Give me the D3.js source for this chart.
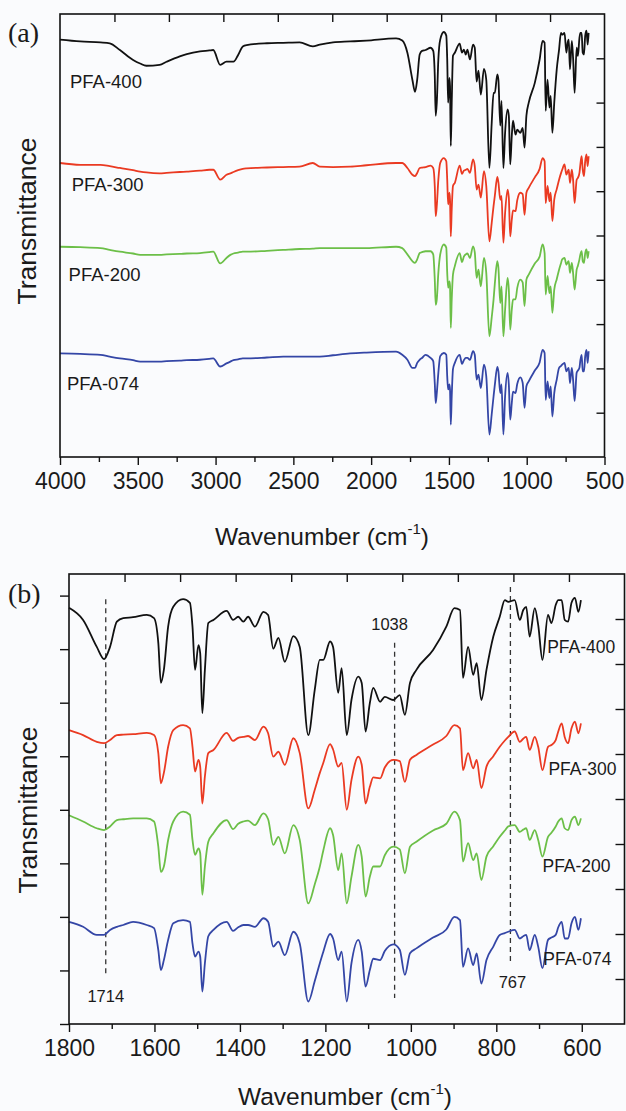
<!DOCTYPE html>
<html><head><meta charset="utf-8">
<script src="https://cdn.jsdelivr.net/npm/d3@7"></script>
<style>
html,body{margin:0;padding:0;background:#fafbfd;}
svg{display:block;}
text{fill:#1a1a1a;}
</style></head>
<body>
<svg id="chart" width="626" height="1111" font-family="'Liberation Sans', Arial, sans-serif"></svg>
<script>
// ---------------- DATA ----------------
const seriesNames = ["PFA-400", "PFA-300", "PFA-200", "PFA-074"];
const seriesColors = ["#111111", "#ea3a22", "#6cbf48", "#3446a6"];

// high-wavenumber region (panel a only), cm-1
const wnHigh = [4000, 3870, 3740, 3680, 3615, 3530, 3485, 3445, 3360, 3315, 3230, 3185, 3100, 3040, 3015, 2970, 2930, 2905, 2885, 2855, 2825, 2800, 2670, 2565, 2460, 2375, 2330, 2245, 2135, 2030, 1840];
const highPFA400 = [9.27, 9.23, 9.21, 9.19, 9.04, 8.82, 8.74, 8.69, 8.71, 8.78, 8.90, 8.95, 9.01, 9.03, 9.04, 8.71, 8.78, 8.78, 8.78, 8.93, 9.12, 9.15, 9.19, 9.20, 9.21, 9.12, 9.16, 9.21, 9.23, 9.25, 9.30];
const highPFA300 = [6.53, 6.49, 6.49, 6.46, 6.42, 6.37, 6.34, 6.32, 6.30, 6.31, 6.33, 6.34, 6.36, 6.38, 6.38, 6.16, 6.27, 6.30, 6.33, 6.37, 6.40, 6.41, 6.43, 6.44, 6.45, 6.53, 6.45, 6.44, 6.45, 6.48, 6.53];
const highPFA200 = [4.67, 4.66, 4.64, 4.60, 4.56, 4.52, 4.49, 4.49, 4.49, 4.50, 4.51, 4.52, 4.53, 4.55, 4.56, 4.30, 4.42, 4.49, 4.52, 4.54, 4.56, 4.56, 4.58, 4.60, 4.62, 4.63, 4.64, 4.64, 4.64, 4.64, 4.67];
const highPFA074 = [2.30, 2.29, 2.27, 2.23, 2.19, 2.15, 2.12, 2.12, 2.12, 2.13, 2.14, 2.15, 2.16, 2.18, 2.19, 2.01, 2.08, 2.12, 2.15, 2.17, 2.19, 2.19, 2.21, 2.23, 2.23, 2.23, 2.23, 2.26, 2.30, 2.32, 2.34];

// fingerprint region (both panels), cm-1
const wnFine = [1800, 1767, 1735, 1718, 1704, 1688, 1673, 1650, 1618, 1601, 1591, 1585, 1578, 1568, 1556, 1533, 1517, 1511, 1505, 1497, 1493, 1488, 1482, 1474, 1462, 1431, 1416, 1404, 1392, 1381, 1365, 1345, 1334, 1322, 1310, 1295, 1275, 1260, 1240, 1225, 1213, 1205, 1189, 1182, 1170, 1162, 1150, 1139, 1123, 1115, 1106, 1096, 1088, 1072, 1061, 1041, 1026, 1014, 1002, 987, 948, 917, 898, 885, 878, 866, 854, 846, 835, 823, 807, 792, 780, 772, 757, 745, 737, 730, 722, 710, 702, 692, 679, 671, 661, 655, 647, 640, 632, 624, 616, 608, 602];
const finePFA400 = [9.25, 8.98, 8.38, 8.11, 8.38, 8.94, 9.02, 9.04, 9.09, 9.02, 8.47, 7.58, 7.87, 8.83, 9.27, 9.44, 9.36, 8.83, 7.87, 8.42, 8.24, 6.91, 7.87, 8.91, 8.98, 9.18, 8.98, 9.05, 8.94, 9.05, 8.83, 9.16, 9.09, 8.34, 8.58, 8.05, 8.62, 8.38, 6.42, 7.42, 8.09, 8.09, 8.50, 8.38, 7.36, 7.91, 6.42, 7.20, 7.72, 7.58, 6.50, 7.13, 7.47, 7.16, 7.27, 7.20, 7.31, 6.87, 7.58, 7.87, 8.31, 8.83, 9.24, 9.20, 7.69, 8.38, 7.76, 8.02, 7.20, 7.87, 8.61, 9.05, 9.42, 9.38, 9.42, 8.98, 9.20, 9.27, 8.61, 9.24, 8.87, 8.09, 9.09, 8.91, 9.31, 9.42, 9.42, 8.98, 8.94, 9.36, 9.47, 9.16, 9.42];
const finePFA300 = [6.53, 6.42, 6.27, 6.24, 6.31, 6.42, 6.43, 6.44, 6.47, 6.42, 6.02, 5.35, 5.58, 6.16, 6.53, 6.64, 6.57, 6.16, 5.61, 5.87, 5.72, 4.90, 5.50, 6.02, 6.09, 6.47, 6.29, 6.36, 6.38, 6.40, 6.31, 6.61, 6.46, 5.94, 6.05, 5.76, 6.35, 6.02, 4.79, 5.20, 5.58, 5.80, 6.22, 6.10, 5.72, 5.80, 4.76, 5.42, 5.94, 5.76, 4.90, 5.27, 5.48, 5.46, 5.70, 5.87, 5.84, 5.38, 5.87, 5.98, 6.21, 6.40, 6.64, 6.57, 5.64, 6.02, 5.68, 5.87, 5.24, 5.72, 5.95, 6.16, 6.30, 6.38, 6.50, 6.27, 6.34, 6.38, 6.09, 6.38, 6.16, 5.64, 6.16, 6.20, 6.31, 6.50, 6.68, 6.38, 6.24, 6.57, 6.72, 6.46, 6.68];
const finePFA200 = [4.64, 4.50, 4.35, 4.31, 4.39, 4.53, 4.55, 4.57, 4.57, 4.50, 3.94, 3.38, 3.50, 4.09, 4.50, 4.72, 4.65, 4.09, 3.76, 3.90, 3.80, 2.87, 3.50, 4.05, 4.24, 4.53, 4.33, 4.45, 4.50, 4.52, 4.42, 4.68, 4.55, 3.98, 4.16, 3.79, 4.42, 4.09, 2.68, 3.10, 3.50, 3.85, 4.35, 4.20, 3.42, 3.79, 2.68, 3.27, 3.98, 3.72, 2.83, 3.27, 3.50, 3.50, 3.75, 3.94, 3.88, 3.35, 3.94, 4.05, 4.30, 4.45, 4.72, 4.53, 3.61, 4.02, 3.64, 3.79, 3.20, 3.72, 3.95, 4.16, 4.30, 4.39, 4.42, 4.27, 4.32, 4.35, 4.09, 4.31, 4.09, 3.72, 4.16, 4.25, 4.39, 4.50, 4.57, 4.35, 4.31, 4.53, 4.61, 4.42, 4.57];
const finePFA074 = [2.27, 2.16, 1.98, 1.98, 2.09, 2.16, 2.20, 2.27, 2.20, 2.13, 1.64, 1.20, 1.42, 1.87, 2.24, 2.31, 2.27, 1.79, 1.50, 1.61, 1.50, 0.72, 1.35, 1.95, 2.09, 2.27, 2.07, 2.15, 2.20, 2.20, 2.16, 2.35, 2.27, 1.72, 1.83, 1.53, 2.05, 1.79, 0.50, 0.95, 1.35, 1.60, 2.00, 1.90, 1.42, 1.61, 0.50, 1.35, 1.87, 1.61, 0.83, 1.20, 1.45, 1.42, 1.62, 1.77, 1.65, 1.09, 1.57, 1.68, 1.92, 2.10, 2.38, 2.31, 1.27, 1.68, 1.31, 1.57, 0.90, 1.42, 1.72, 1.98, 2.02, 2.05, 2.09, 1.90, 1.95, 1.98, 1.64, 1.98, 1.72, 1.24, 1.87, 1.92, 1.98, 2.15, 2.27, 1.90, 1.90, 2.24, 2.38, 2.09, 2.35];

const ticksA = [4000, 3500, 3000, 2500, 2000, 1500, 1000, 500];
const minorTicksA = [3750, 3250, 2750, 2250, 1750, 1250, 750];
const ticksB = [1800, 1600, 1400, 1200, 1000, 800, 600];
const minorTicksB = [1700, 1500, 1300, 1100, 900, 700];

// marked bands in panel b: wavenumber, dashed line extent (transmittance units), label
const bandWn = [1714, 1038, 767];
const bandTop = [9.44, 8.47, 9.71];
const bandBottom = [1.13, 0.58, 1.36];
const bandLabels = ["1714", "1038", "767"];

// ---------------- DRAW ----------------
const svg = d3.select("#chart");
const highSets = [highPFA400, highPFA300, highPFA200, highPFA074];
const fineSets = [finePFA400, finePFA300, finePFA200, finePFA074];
const SERIF = "'Liberation Serif','Times New Roman',serif";

function frame(g, x, y) {
  const [x0, x1] = x.range(), [y0, y1] = y.range();
  g.append("rect").attr("x", x0).attr("y", y1).attr("width", x1 - x0).attr("height", y0 - y1)
    .attr("fill", "none").attr("stroke", "#111").attr("stroke-width", 1.6);
}
function styleAxis(g) {
  g.select(".domain").remove();
  g.selectAll(".tick line").attr("stroke", "#111").attr("stroke-width", 1.4);
  g.selectAll(".tick text").attr("font-size", 23).attr("fill", "#1a1a1a")
    .attr("font-family", "'Liberation Sans', Arial, sans-serif");
}
function frac(scale, n) {
  const d = scale.domain();
  return d3.range(1, n).map(i => d[0] + i * (d[1] - d[0]) / n);
}
function xTitle(x, yBase) {
  const t = svg.append("text").attr("x", x).attr("y", yBase).attr("text-anchor", "middle")
    .attr("font-size", 24.5);
  t.append("tspan").text("Wavenumber (cm");
  t.append("tspan").text("-1").attr("font-size", 15).attr("dy", -11);
  t.append("tspan").text(")").attr("dy", 11);
}
function yTitle(xBase, yc) {
  svg.append("text").attr("transform", `translate(${xBase},${yc}) rotate(-90)`)
    .attr("text-anchor", "middle").attr("font-size", 26.5).text("Transmittance");
}

// ----- Panel (a)
const xA = d3.scaleLinear().domain([4000, 500]).range([60, 604.5]);
const yA = d3.scaleLinear().domain([0, 9.84]).range([457, 14]);
const gA = svg.append("g");
const lineA = d3.line().x(d => xA(d[0])).y(d => yA(d[1])).curve(d3.curveMonotoneX);
seriesNames.forEach((name, i) => {
  const pts = wnHigh.map((w, k) => [w, highSets[i][k]])
    .concat(wnFine.map((w, k) => [w, fineSets[i][k]]));
  gA.append("path").datum(pts).attr("d", lineA).attr("fill", "none")
    .attr("stroke", seriesColors[i]).attr("stroke-width", 1.8).attr("stroke-linejoin", "round");
});
frame(gA, xA, yA);
gA.append("g").attr("transform", "translate(0,457)")
  .call(d3.axisBottom(xA).tickValues(ticksA).tickSize(8).tickPadding(8).tickFormat(d3.format("d")))
  .call(styleAxis);
gA.append("g").attr("transform", "translate(0,457)")
  .call(d3.axisBottom(xA).tickValues(minorTicksA).tickSize(5).tickFormat(""))
  .call(styleAxis);
gA.append("g").attr("transform", "translate(0,14)")
  .call(d3.axisTop(xA).tickValues(frac(xA, 10)).tickSize(-8).tickFormat(""))
  .call(styleAxis);
gA.append("g").attr("transform", "translate(604.5,0)")
  .call(d3.axisRight(yA).tickValues(frac(yA, 10)).tickSize(-8).tickFormat(""))
  .call(styleAxis);
// series labels (a)
const labA = [[3936, 8.2], [3925, 5.9], [3945, 3.9], [3955, 1.48]];
seriesNames.forEach((name, i) => {
  gA.append("text").attr("x", xA(labA[i][0])).attr("y", yA(labA[i][1]))
    .attr("font-size", 18.5).text(name);
});
svg.append("text").attr("x", 8).attr("y", 42).attr("font-size", 28)
  .attr("font-family", SERIF).text("(a)");
xTitle(322, 545);
yTitle(36, 221);

// ----- Panel (b)
const xB = d3.scaleLinear().domain([1800, 500]).range([69, 624.5]);
const yB = d3.scaleLinear().domain([0, 10]).range([1024, 574]);
const gB = svg.append("g");
const lineB = d3.line().x(d => xB(d[0])).y(d => yB(d[1])).curve(d3.curveMonotoneX);
// dashed band markers
bandWn.forEach((w, i) => {
  gB.append("line").attr("x1", xB(w)).attr("x2", xB(w))
    .attr("y1", yB(bandTop[i])).attr("y2", yB(bandBottom[i]))
    .attr("stroke", "#333").attr("stroke-width", 1.3).attr("stroke-dasharray", "5,4");
});
seriesNames.forEach((name, i) => {
  const pts = wnFine.map((w, k) => [w, fineSets[i][k]]);
  gB.append("path").datum(pts).attr("d", lineB).attr("fill", "none")
    .attr("stroke", seriesColors[i]).attr("stroke-width", 1.8).attr("stroke-linejoin", "round");
});
frame(gB, xB, yB);
gB.append("g").attr("transform", "translate(0,1024)")
  .call(d3.axisBottom(xB).tickValues(ticksB).tickSize(8).tickPadding(8).tickFormat(d3.format("d")))
  .call(styleAxis);
gB.append("g").attr("transform", "translate(0,1024)")
  .call(d3.axisBottom(xB).tickValues(minorTicksB).tickSize(5).tickFormat(""))
  .call(styleAxis);
gB.append("g").attr("transform", "translate(0,574)")
  .call(d3.axisTop(xB).tickValues(frac(xB, 10)).tickSize(-8).tickFormat(""))
  .call(styleAxis);
gB.append("g").attr("transform", "translate(624.5,0)")
  .call(d3.axisRight(yB).tickValues(frac(yB, 10)).tickSize(-9).tickFormat(""))
  .call(styleAxis);
gB.append("g").attr("transform", "translate(69,0)")
  .call(d3.axisLeft(yB).tickValues(d3.range(0, 9.6, 1.19)).tickSize(9).tickFormat(""))
  .call(styleAxis);
// band labels
const bandLabelPos = [[1714, 0.49, 0], [1038, 8.76, -5], [767, 0.8, 2]];
bandLabels.forEach((t, i) => {
  gB.append("text").attr("x", xB(bandLabelPos[i][0]) + bandLabelPos[i][2]).attr("y", yB(bandLabelPos[i][1]))
    .attr("text-anchor", "middle").attr("font-size", 16.5).text(t);
});
// series labels (b)
const labB = [[681, 8.24], [678, 5.53], [692, 3.38], [690, 1.31]];
seriesNames.forEach((name, i) => {
  gB.append("text").attr("x", xB(labB[i][0])).attr("y", yB(labB[i][1]))
    .attr("font-size", 17.5).text(name);
});
svg.append("text").attr("x", 8).attr("y", 603).attr("font-size", 28)
  .attr("font-family", SERIF).text("(b)");
xTitle(345, 1105);
yTitle(37, 810);
</script>
</body></html>
